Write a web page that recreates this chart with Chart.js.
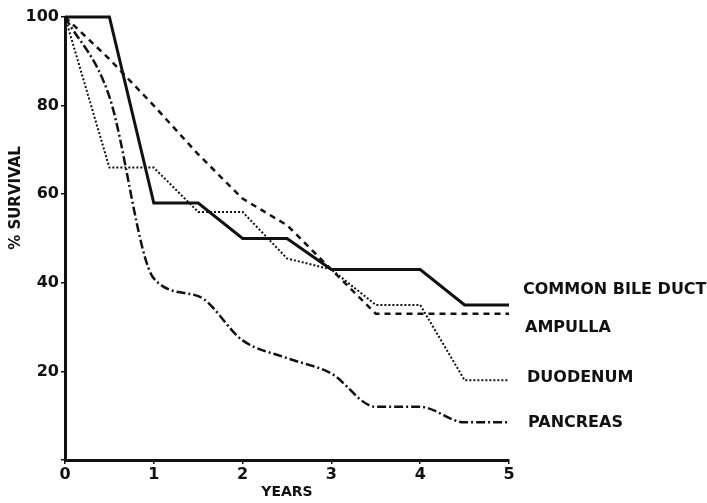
<!DOCTYPE html>
<html>
<head>
<meta charset="utf-8">
<script src="https://cdn.jsdelivr.net/npm/chart.js@4.4.1/dist/chart.umd.min.js"></script>
<style>
  body { margin: 0; background: #fff; }
  canvas { display: block; }
</style>
</head>
<body>
<canvas id="chart" width="707" height="503"></canvas>
<script>
// Data (years on x, % survival on y)
const years = [0, 0.5, 1, 1.5, 2, 2.5, 3, 3.5, 4, 4.5, 5];
const bileDuct = [100, 100, 58, 58, 50, 50, 43, 43, 43, 35, 35];
const ampulla = [100, 90.5, 80, 69, 59, 53, 43, 33, 33, 33, 33];
const duodenum = [100, 66, 66, 56, 56, 45.5, 43, 35, 35, 18, 18];
const pancreas = [100, 82, 41, 37, 27, 23, 19.5, 12, 12, 8.5, 8.5];
const seriesNames = ["COMMON BILE DUCT", "AMPULLA", "DUODENUM", "PANCREAS"];
const yTicks = [0, 20, 40, 60, 80, 100];
const xTicks = [0, 1, 2, 3, 4, 5];

const ink = "#111";
const font = "DejaVu Sans";

function points(vals) {
  return years.map((x, i) => ({ x: x, y: vals[i] }));
}

// curve names drawn right of each line end
const endLabels = {
  id: "endLabels",
  afterDatasetsDraw(chart) {
    const ctx = chart.ctx;
    ctx.save();
    ctx.fillStyle = ink;
    ctx.font = "bold 16px '" + font + "'";
    ctx.textBaseline = "middle";
    chart.data.datasets.forEach((ds, i) => {
      const meta = chart.getDatasetMeta(i);
      const last = meta.data[meta.data.length - 1];
      ctx.fillText(ds.label, last.x + ds.labelDx, last.y + ds.labelDy);
    });
    // y axis title
    ctx.translate(16, 198);
    ctx.rotate(-Math.PI / 2);
    ctx.textAlign = "center";
    ctx.font = "bold 15px '" + font + "'";
    ctx.fillText("% SURVIVAL", 0, 0);
    ctx.restore();
  }
};

new Chart(document.getElementById("chart"), {
  type: "line",
  data: {
    datasets: [
      { label: seriesNames[0], data: points(bileDuct), borderWidth: 3, borderDash: [], labelDx: 14, labelDy: -15 },
      { label: seriesNames[1], data: points(ampulla), borderWidth: 2.5, borderDash: [6, 5], labelDx: 16, labelDy: 14 },
      { label: seriesNames[2], data: points(duodenum), borderWidth: 2, borderDash: [2, 2], labelDx: 18, labelDy: -2 },
      { label: seriesNames[3], data: points(pancreas), borderWidth: 2.5, borderDash: [9, 3, 2, 3], cubicInterpolationMode: "monotone", labelDx: 19, labelDy: 0 }
    ].map(d => Object.assign({ borderColor: ink, pointRadius: 0, fill: false, clip: false }, d))
  },
  options: {
    responsive: false,
    animation: false,
    layout: { padding: { left: 0, right: 198, top: 17, bottom: 0 } },
    plugins: { legend: { display: false }, tooltip: { enabled: false } },
    scales: {
      x: {
        type: "linear",
        min: 0, max: 5,
        afterFit: s => { s.height = 43; },
        afterBuildTicks: s => { s.ticks = xTicks.map(v => ({ value: v })); },
        border: { width: 3, color: ink },
        grid: { drawOnChartArea: false, tickLength: 4, color: ink, lineWidth: 1.5 },
        ticks: { color: ink, padding: 1, font: { family: font, size: 16, weight: "bold" } },
        title: { display: true, text: "YEARS", color: ink, padding: { top: 0, bottom: 2 }, font: { family: font, size: 14, weight: "bold" } }
      },
      y: {
        min: 0, max: 100,
        afterFit: s => { s.width = 65; },
        afterBuildTicks: s => { s.ticks = yTicks.map(v => ({ value: v })); },
        border: { width: 3, color: ink },
        grid: { drawOnChartArea: false, tickLength: 4, color: ink, lineWidth: 1.5 },
        ticks: { color: ink, padding: 2, font: { family: font, size: 16, weight: "bold" }, callback: v => v === 0 ? "" : v }
      }
    }
  },
  plugins: [endLabels]
});
</script>
</body>
</html>
